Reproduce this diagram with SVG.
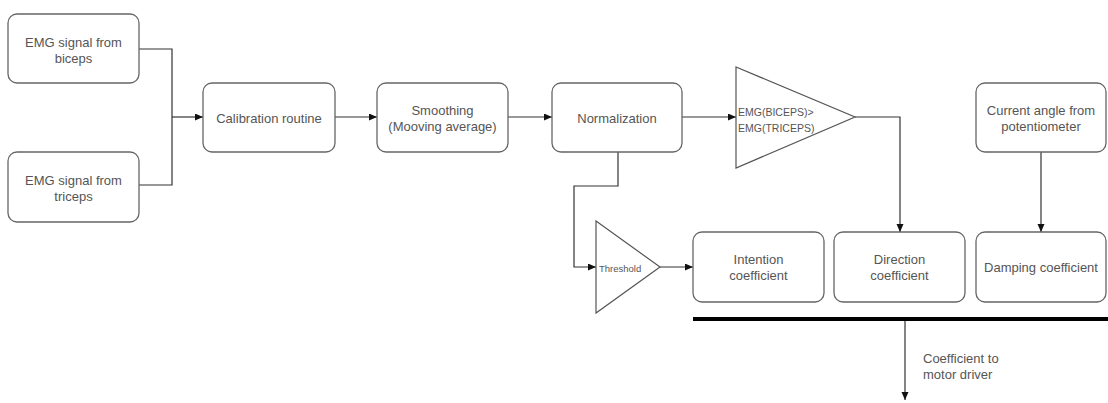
<svg xmlns="http://www.w3.org/2000/svg" width="1108" height="403" viewBox="0 0 1108 403">
<style>
.box{fill:#fff;stroke:#666;stroke-width:1.3}
.tri{fill:#fff;stroke:#555;stroke-width:1.2}
.lbl{font-family:"Liberation Sans",Arial,sans-serif;font-size:13px;fill:#555;text-anchor:middle;dominant-baseline:central}
.sm{font-family:"Liberation Sans",Arial,sans-serif;fill:#555;dominant-baseline:central}
.con{fill:none;stroke:#333;stroke-width:1.2}
</style>
<defs>
<marker id="arr" markerUnits="userSpaceOnUse" markerWidth="9" markerHeight="8" refX="8" refY="3.5" orient="auto">
<path d="M0,0 L8,3.5 L0,7 z" fill="#111"/>
</marker>
</defs>
<rect width="1108" height="403" fill="#fff"/>
<g id="connectors">
<path class="con" d="M139,49 H172 V185 H139"/>
<path class="con" d="M172,117 H203" marker-end="url(#arr)"/>
<path class="con" d="M335,117 H377" marker-end="url(#arr)"/>
<path class="con" d="M508,117 H552" marker-end="url(#arr)"/>
<path class="con" d="M682,117 H736" marker-end="url(#arr)"/>
<path class="con" d="M855,117 H900 V232" marker-end="url(#arr)"/>
<path class="con" d="M618,152 V186 H574 V267 H596" marker-end="url(#arr)"/>
<path class="con" d="M660,267 H693" marker-end="url(#arr)"/>
<path class="con" d="M1041,152 V232" marker-end="url(#arr)"/>
<path d="M693,319 H1108" stroke="#000" stroke-width="4" fill="none"/>
<path class="con" d="M905,321 V400" marker-end="url(#arr)"/>
<text class="sm" font-size="13" x="923" y="358">Coefficient to</text>
<text class="sm" font-size="13" x="923" y="374">motor driver</text>
</g>
<g id="emg-biceps">
<rect class="box" x="8" y="14" width="131" height="69" rx="9"/>
<text class="lbl" x="73.5" y="42">EMG signal from</text>
<text class="lbl" x="73.5" y="58">biceps</text>
</g>
<g id="emg-triceps">
<rect class="box" x="8" y="152" width="131" height="70" rx="9"/>
<text class="lbl" x="73.5" y="180">EMG signal from</text>
<text class="lbl" x="73.5" y="196">triceps</text>
</g>
<g id="calibration">
<rect class="box" x="203" y="83" width="132" height="69" rx="9"/>
<text class="lbl" x="269" y="118">Calibration routine</text>
</g>
<g id="smoothing">
<rect class="box" x="377" y="83" width="131" height="69" rx="9"/>
<text class="lbl" x="442.5" y="110">Smoothing</text>
<text class="lbl" x="442.5" y="126">(Mooving average)</text>
</g>
<g id="normalization">
<rect class="box" x="552" y="83" width="130" height="69" rx="9"/>
<text class="lbl" x="617" y="118">Normalization</text>
</g>
<g id="comparator">
<polygon class="tri" points="736,67 855,117 736,168"/>
<text class="sm" font-size="10.5" x="738" y="112">EMG(BICEPS)&gt;</text>
<text class="sm" font-size="10.5" x="738" y="128">EMG(TRICEPS)</text>
</g>
<g id="current-angle">
<rect class="box" x="976" y="83" width="130" height="69" rx="9"/>
<text class="lbl" x="1041" y="110">Current angle from</text>
<text class="lbl" x="1041" y="126">potentiometer</text>
</g>
<g id="threshold">
<polygon class="tri" points="596,221 660,267 596,313"/>
<text class="sm" font-size="9.5" x="599" y="268">Threshold</text>
</g>
<g id="intention">
<rect class="box" x="693" y="232" width="131" height="70" rx="9"/>
<text class="lbl" x="758.5" y="259">Intention</text>
<text class="lbl" x="758.5" y="275">coefficient</text>
</g>
<g id="direction">
<rect class="box" x="834" y="232" width="131" height="70" rx="9"/>
<text class="lbl" x="899.5" y="259">Direction</text>
<text class="lbl" x="899.5" y="275">coefficient</text>
</g>
<g id="damping">
<rect class="box" x="976" y="232" width="130" height="70" rx="9"/>
<text class="lbl" x="1041" y="267">Damping coefficient</text>
</g>
</svg>
